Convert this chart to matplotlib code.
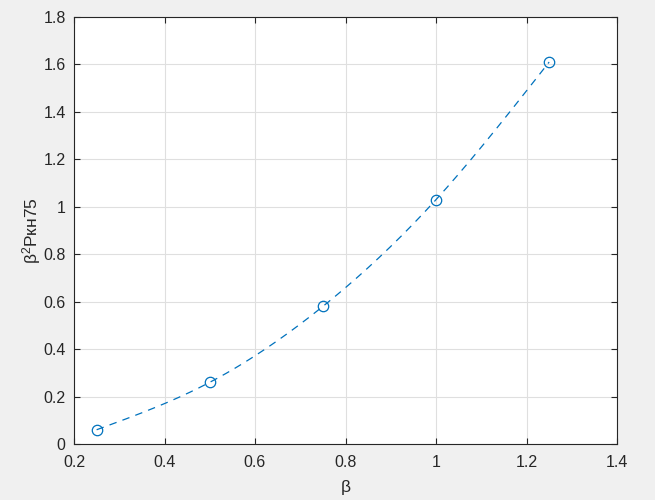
import numpy as np
import matplotlib
matplotlib.use("Agg")
import matplotlib.pyplot as plt
from matplotlib.ticker import FuncFormatter

beta = [0.25, 0.5, 0.75, 1.0, 1.25]
values = [0.06, 0.26, 0.58, 1.03, 1.61]
xticks = [0.2, 0.4, 0.6, 0.8, 1.0, 1.2, 1.4]
yticks = [0, 0.2, 0.4, 0.6, 0.8, 1.0, 1.2, 1.4, 1.6, 1.8]


def natural_spline(x, y, n=200):
    x = np.asarray(x, float); y = np.asarray(y, float)
    m = len(x)
    h = np.diff(x)
    A = np.zeros((m, m)); b = np.zeros(m)
    A[0, 0] = 1; A[-1, -1] = 1
    for i in range(1, m - 1):
        A[i, i - 1] = h[i - 1]
        A[i, i] = 2 * (h[i - 1] + h[i])
        A[i, i + 1] = h[i]
        b[i] = 3 * ((y[i + 1] - y[i]) / h[i] - (y[i] - y[i - 1]) / h[i - 1])
    c = np.linalg.solve(A, b)
    xs = np.linspace(x[0], x[-1], n)
    ys = np.empty_like(xs)
    for k, xv in enumerate(xs):
        i = min(np.searchsorted(x, xv, side="right") - 1, m - 2)
        dx = xv - x[i]
        bi = (y[i + 1] - y[i]) / h[i] - h[i] * (2 * c[i] + c[i + 1]) / 3
        di = (c[i + 1] - c[i]) / (3 * h[i])
        ys[k] = y[i] + bi * dx + c[i] * dx ** 2 + di * dx ** 3
    return xs, ys


plt.rcParams['font.family'] = ['Liberation Sans', 'DejaVu Sans']
plt.rcParams['mathtext.fontset'] = 'custom'
plt.rcParams['mathtext.rm'] = 'Liberation Sans'
plt.rcParams['mathtext.it'] = 'Liberation Sans'
plt.rcParams['mathtext.bf'] = 'Liberation Sans'

fig = plt.figure(figsize=(6.55, 5.0), dpi=100, facecolor='#f0f0f0')
ax = fig.add_axes([74 / 655, 56 / 500, 543 / 655, 427 / 500])
ax.set_facecolor('white')

col = '#0072BD'
xs, ys = natural_spline(beta, values)
ax.plot(xs, ys, color=col, lw=0.9, linestyle=(0, (6, 5)))
ax.plot(beta, values, linestyle='none', marker='o', markersize=7.5,
        markerfacecolor='none', markeredgecolor=col, markeredgewidth=0.9)

ax.set_xlim(0.2, 1.4)
ax.set_ylim(0, 1.8)
ax.set_xticks(xticks)
ax.set_yticks(yticks)
fmt = FuncFormatter(lambda v, p: f"{v:g}")
ax.xaxis.set_major_formatter(fmt)
ax.yaxis.set_major_formatter(fmt)
ax.grid(True, color='#dfdfdf', lw=0.8)
ax.set_axisbelow(True)
ax.tick_params(direction='in', length=4, width=0.8, colors='#262626',
               labelsize=11.5, top=True, right=True)
ax.tick_params(axis='x', pad=8)
ax.tick_params(axis='y', pad=6)
for s in ax.spines.values():
    s.set_color('#262626')
    s.set_linewidth(0.8)

ax.set_xlabel('β', fontsize=12.5, color='#262626', labelpad=7)
ax.set_ylabel(r'β$^{\mathrm{2}}$Pкн75', fontsize=12.5, color='#262626', labelpad=0)

fig.savefig('out.png', dpi=100, facecolor=fig.get_facecolor())
